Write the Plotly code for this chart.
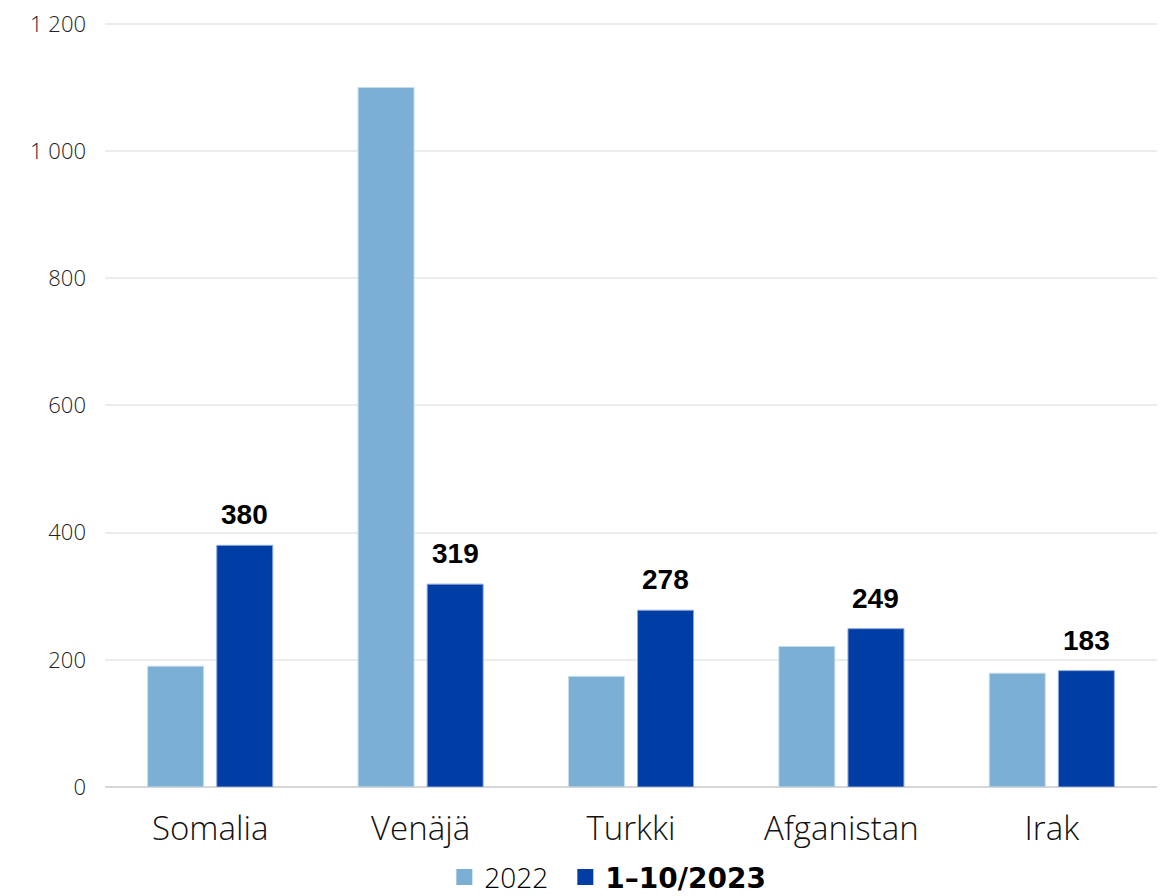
import plotly.graph_objects as go

# Data
countries = ['Somalia', 'Venäjä', 'Turkki', 'Afganistan', 'Irak']
values_2022 = [190, 1100, 174, 221, 179]
values_2023 = [380, 319, 278, 249, 183]
y_ticks = [0, 200, 400, 600, 800, 1000, 1200]
series_names = ['2022', '1–10/2023']

LIGHT_BLUE = '#7bafd4'
DARK_BLUE = '#003da5'
THIN_FONT = 'Open Sans, Lato, sans-serif'
BOLD_FONT = 'Liberation Sans, Arial, sans-serif'
WIDE_BOLD_FONT = 'DejaVu Sans, Liberation Sans, sans-serif'

# The page body keeps its default 8px margin, so the figure is 8px smaller
FIG_W, FIG_H = 1158, 888
MARGIN = dict(l=97, r=9, t=14, b=109)
BARGAP = 0.343
BARGROUPGAP = 0.19

fig = go.Figure()

fig.add_trace(go.Bar(
    x=countries,
    y=values_2022,
    name=series_names[0],
    marker=dict(color=LIGHT_BLUE, line=dict(color='#c6dcee', width=1)),
    showlegend=False,
))

fig.add_trace(go.Bar(
    x=countries,
    y=values_2023,
    name=series_names[1],
    marker=dict(color=DARK_BLUE, line=dict(color='#8fa8dc', width=1)),
    showlegend=False,
))

# Legend entries with larger square swatches
fig.add_trace(go.Scatter(
    x=[None], y=[None], mode='markers', name=series_names[0],
    marker=dict(symbol='square', size=18, color=LIGHT_BLUE),
    legendwidth=76,
))
fig.add_trace(go.Scatter(
    x=[None], y=[None], mode='markers',
    name=f'<span style="font-family:{WIDE_BOLD_FONT}"><b>{series_names[1]}</b></span>',
    marker=dict(symbol='square', size=18, color=DARK_BLUE),
))

# Value labels above the 2023 bars
plot_w = FIG_W - MARGIN['l'] - MARGIN['r']
slot = plot_w / len(countries) * (1 - BARGAP) / 2
for c, v in zip(countries, values_2023):
    fig.add_annotation(
        x=c, y=v, xref='x', yref='y',
        text=f'<b>{v}</b>',
        showarrow=False,
        xshift=slot / 2,
        yanchor='bottom',
        yshift=13,
        font=dict(family=BOLD_FONT, size=28, color='black'),
    )

fig.update_layout(
    width=FIG_W,
    height=FIG_H,
    barmode='group',
    bargap=BARGAP,
    bargroupgap=BARGROUPGAP,
    separators=', ',
    plot_bgcolor='white',
    paper_bgcolor='white',
    margin=dict(**MARGIN, autoexpand=False),
    font=dict(family=THIN_FONT, color='#222222'),
    showlegend=True,
    legend=dict(
        orientation='h',
        xref='container',
        yref='container',
        xanchor='center',
        x=0.518,
        yanchor='middle',
        y=0.021,
        font=dict(family=THIN_FONT, size=28, color='black', weight=300),
        traceorder='normal',
        itemsizing='trace',
    ),
)

fig.update_yaxes(
    range=[0, 1203],
    tickvals=y_ticks,
    tickformat=',d',
    showgrid=True,
    gridcolor='#ececec',
    gridwidth=2,
    zeroline=True,
    zerolinecolor='#d6d6d6',
    zerolinewidth=2,
    tickfont=dict(family=THIN_FONT, size=22, color='#222222', weight=300),
    ticklabelstandoff=18,
    ticklabeloverflow='allow',
    automargin=False,
)
fig.update_xaxes(
    tickfont=dict(family=THIN_FONT, size=33, color='#111111', weight=300),
    showline=False,
    ticks='',
    ticklabelstandoff=19,
    automargin=False,
)

fig.write_html("out.html")
